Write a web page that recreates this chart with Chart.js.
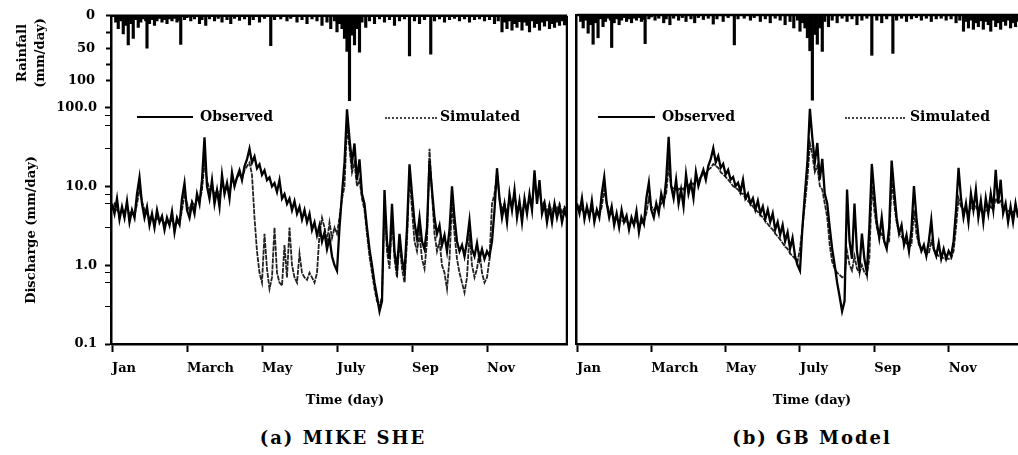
<!DOCTYPE html>
<html>
<head>
<meta charset="utf-8">
<script src="https://cdn.jsdelivr.net/npm/chart.js@4.4.1/dist/chart.umd.min.js"></script>
<style>
  body { margin: 0; background: #fff; }
  #wrap { position: relative; width: 1018px; height: 455px; overflow: hidden;
          font-family: "DejaVu Serif", serif; font-weight: bold; color: #000; }
  canvas { position: absolute; top: 0; }
  .t { position: absolute; white-space: nowrap; }
  .rot { transform: translate(-50%, -50%) rotate(-90deg); }
  .leg { position: absolute; height: 0; }
</style>
</head>
<body>
<div id="wrap">
  <canvas id="mikeChart" width="568" height="400" style="left:0"></canvas>
  <canvas id="gbChart" width="450" height="400" style="left:568px"></canvas>

  <!-- axis titles (left panel only) -->
  <div class="t rot" style="left:21px;top:53px;font-size:13px">Rainfall</div>
  <div class="t rot" style="left:39px;top:53px;font-size:13px">(mm/day)</div>
  <div class="t rot" style="left:30px;top:230px;font-size:13px">Discharge (mm/day)</div>

  <!-- legends -->
  <div class="leg" style="left:137px;top:116px;width:56px;border-top:2.5px solid #000"></div>
  <div class="t" style="left:200px;top:108px;font-size:14px">Observed</div>
  <div class="leg" style="left:385px;top:117px;width:52px;border-top:2px dotted #444"></div>
  <div class="t" style="left:440px;top:108px;font-size:14px">Simulated</div>

  <div class="leg" style="left:598px;top:116px;width:57px;border-top:2.5px solid #000"></div>
  <div class="t" style="left:662px;top:108px;font-size:14px">Observed</div>
  <div class="leg" style="left:845px;top:117px;width:60px;border-top:2px dotted #444"></div>
  <div class="t" style="left:910px;top:108px;font-size:14px">Simulated</div>

  <!-- x titles and captions -->
  <div class="t" style="left:345px;top:399px;font-size:13px;transform:translate(-50%,-50%)">Time (day)</div>
  <div class="t" style="left:812px;top:399px;font-size:13px;transform:translate(-50%,-50%)">Time (day)</div>
  <div class="t" style="left:343px;top:437px;font-size:18px;letter-spacing:2px;transform:translate(-50%,-50%)">(a) MIKE SHE</div>
  <div class="t" style="left:812px;top:437px;font-size:18px;letter-spacing:2px;transform:translate(-50%,-50%)">(b) GB Model</div>
</div>

<script>
// x axis month ticks (day of year)
const tickDays = [0, 60, 120, 180, 240, 300];
const monthLabels = ['Jan', 'March', 'May', 'July', 'Sep', 'Nov'];

// discharge sampled every 2 days, day 0 .. 364
const qDays = Array.from({ length: 183 }, (_, i) => i * 2);

const obsQ = [
  6, 4.5, 7, 3.8, 5.5, 4, 6.5, 3.5, 5, 4,
  8, 13, 6, 4, 5.5, 3.2, 4.5, 3, 5, 3.5,
  4.2, 2.8, 4, 3.2, 4.8, 2.6, 4, 3.3, 7, 11,
  5, 4, 6, 4.5, 8, 6, 12, 42, 10, 7,
  12, 6, 9, 5.5, 14, 8, 11, 7, 15, 10,
  13, 16, 12, 18, 22, 30, 20, 24, 17, 19,
  14, 16, 12, 13, 10, 11, 8.5, 12, 7, 8,
  6, 7, 5, 6.5, 4.5, 5.5, 3.8, 5, 3.5, 4.5,
  2.8, 3.5, 2.4, 3.2, 2, 2.6, 1.6, 2.2, 1.3, 1.0,
  0.85, 3, 8, 20, 95, 40, 20, 35, 12, 22,
  8, 6, 3, 1.6, 1.0, 0.6, 0.4, 0.26, 0.35, 9,
  2, 1.2, 6, 1.5, 0.9, 2.5, 1.2, 0.8, 3, 19,
  8, 3.5, 2.2, 4, 2, 1.6, 3, 21, 9, 4,
  2.5, 3.2, 1.8, 2.4, 1.5, 2.8, 10, 4, 2, 1.5,
  1.8, 1.3, 2, 3.7, 1.6, 1.3, 1.9, 1.2, 1.6, 1.2,
  1.5, 1.3, 2, 5, 17, 7, 4, 6, 3.5, 8,
  5, 9, 4, 6.5, 3.5, 7, 4.5, 8, 5, 16,
  6, 12, 4.5, 6, 3.5, 5.5, 3.5, 6, 4, 5.5,
  3.5, 5, 4
];

const mikeQ = [
  5, 6, 5, 4.5, 5, 4.8, 5.5, 4.5, 4.8, 4.2,
  6, 9, 6.5, 5, 4.5, 4, 4.2, 3.6, 4, 3.6,
  3.8, 3.4, 3.6, 3.3, 3.8, 3.2, 3.5, 3.3, 5, 8,
  6, 5, 6.5, 5.5, 7, 6.5, 9, 20, 12, 9,
  10, 8, 9, 7.5, 11, 9, 10, 8.5, 12, 11,
  13, 14, 13, 16, 18, 20, 14, 4, 1.5, 0.8,
  0.6, 2.5, 0.9, 0.5, 0.7, 3, 0.8, 0.6, 0.55, 1.8,
  0.7, 3, 1, 0.7, 0.6, 1.4, 0.8, 0.7, 0.65, 0.8,
  0.7, 0.6, 0.8, 2.5, 4, 3, 2, 3.5, 2.2, 3,
  2.5, 4, 7, 10, 60, 30, 15, 20, 10, 12,
  7, 5, 2.5, 1.3, 0.8, 0.5, 0.35, 0.3, 0.4, 6,
  1.5, 0.9, 4, 1.2, 0.7, 2, 0.9, 0.6, 2, 15,
  5, 2, 1.5, 2.5, 1.2, 0.9, 2, 30, 8, 2.5,
  1.5, 2, 1, 0.8, 0.5, 1.2, 6, 2.5, 1.2, 0.8,
  0.6, 0.45, 0.7, 2.5, 1, 0.7, 0.9, 1.5, 0.8, 0.6,
  0.7, 1.2, 6, 8, 15, 7, 5, 6, 4.5, 7,
  5.5, 8, 5, 6, 4.5, 6.5, 5, 7, 5.5, 12,
  7, 9, 5.5, 6.5, 4.5, 6, 4.5, 6, 5, 6,
  4.5, 5.5, 5
];

const gbQ = [
  5, 5.5, 5, 4.5, 4.8, 4.5, 5, 4.3, 4.5, 4.2,
  5.5, 9, 6, 4.8, 4.3, 4, 3.8, 3.6, 3.7, 3.5,
  3.6, 3.3, 3.5, 3.3, 3.6, 3.2, 3.4, 3.5, 4.5, 7,
  5.5, 5, 5.5, 5.2, 6, 6.5, 8, 18, 10, 9,
  10, 9, 9.5, 9, 11, 10, 11, 10.5, 12, 12,
  13, 14, 14.5, 16, 17, 19, 18, 17, 15, 14,
  13, 12, 11, 10, 9.5, 9, 8, 8, 7, 6.5,
  6, 5.5, 5, 4.7, 4.3, 4, 3.6, 3.3, 3, 2.8,
  2.5, 2.3, 2.1, 1.9, 1.7, 1.6, 1.4, 1.3, 1.2, 1.1,
  1.6, 3, 6, 12, 35, 25, 15, 18, 10, 9,
  6, 4, 1.8, 1.1, 0.9, 0.8, 0.75, 0.7, 0.7, 1.5,
  1, 0.85, 1.3, 0.9, 0.8, 1, 0.8, 0.75, 1.2, 10,
  5, 3, 2.3, 2.5, 2, 1.8, 2, 12, 6, 3.5,
  2.5, 2.3, 2, 1.9, 1.7, 1.8, 5, 2.5, 1.8, 1.6,
  1.5, 1.4, 1.4, 2, 1.6, 1.4, 1.3, 1.3, 1.2, 1.2,
  1.2, 1.2, 1.5, 3, 7, 5.5, 5, 5, 4.5, 5.5,
  5, 5.5, 4.8, 5, 4.5, 5, 4.8, 5.5, 5, 7,
  6, 6.5, 5, 5.2, 4.8, 5, 4.6, 5, 4.8, 5,
  4.5, 4.8, 4.6
];

// rainfall events: day of year and depth (mm/day)
const rainDays = [
  3, 5, 7, 9, 11, 13, 15, 17, 19, 21, 23, 25, 27, 28, 30, 32, 34, 36, 38, 40,
  42, 44, 46, 48, 50, 52, 54, 55, 58, 60, 63, 66, 70, 72, 75, 78, 82, 85, 88, 92,
  95, 98, 102, 106, 110, 113, 118, 122, 127, 130, 135, 140, 143, 148, 152, 156, 160, 164, 168, 172,
  175, 178, 180, 182, 184, 186, 188, 190, 192, 194, 196, 198, 200, 203, 206, 210, 214, 218, 222, 226,
  230, 234, 238, 242, 246, 250, 255, 258, 262, 266, 270, 274, 278, 282, 286, 290, 294, 298, 302, 306,
  309, 312, 314, 316, 318, 320, 322, 324, 326, 328, 330, 332, 334, 336, 338, 340, 342, 344, 346, 348,
  350, 352, 354, 356, 358, 360, 362
];
const rainMm = [
  10, 20, 8, 28, 15, 45, 12, 35, 6, 18, 10, 5, 8, 50, 12, 6, 15, 8, 4, 10,
  6, 12, 5, 8, 4, 10, 7, 44, 6, 3, 8, 5, 12, 6, 15, 5, 8, 4, 10, 6,
  12, 4, 7, 5, 14, 6, 10, 4, 46, 6, 5, 8, 4, 10, 6, 12, 5, 8, 15, 10,
  20, 8, 25, 12, 20, 35, 55, 131, 30, 45, 20, 56, 10, 18, 8, 12, 5, 10, 6, 15,
  8, 5, 62, 8, 12, 6, 59, 8, 5, 10, 6, 4, 8, 5, 10, 6, 5, 8, 6, 12,
  8, 25, 10, 20, 8, 22, 12, 18, 9, 22, 10, 15, 25, 8, 18, 12, 22, 10, 16, 8,
  20, 12, 18, 10, 15, 8, 14
];

const qTickMajor = [0.1, 1, 10, 100];
const rainTicks = [0, 25, 50, 75, 100];
const rainLabels = [0, 50, 100];

const tickFont = { family: 'DejaVu Serif', weight: 'bold', size: 13 };

// frame: top line and optional right line of the plot area
const framePlugin = {
  id: 'frame',
  afterDraw(chart, args, opts) {
    const { ctx, chartArea: a } = chart;
    ctx.save();
    ctx.strokeStyle = '#000';
    ctx.lineWidth = 2.5;
    ctx.beginPath();
    ctx.moveTo(a.left, a.top);
    ctx.lineTo(a.right, a.top);
    if (opts.right) {
      ctx.moveTo(a.right, a.top);
      ctx.lineTo(a.right, a.bottom);
    }
    ctx.stroke();
    ctx.restore();
  }
};

function makePanel(id, simQ, maxDay, showY) {
  const ctx = document.getElementById(id).getContext('2d');
  return new Chart(ctx, {
    type: 'line',
    data: {
      datasets: [
        {
          label: 'Observed',
          data: qDays.map((d, i) => ({ x: d, y: obsQ[i] })),
          yAxisID: 'q',
          borderColor: '#000',
          borderWidth: 2.3,
          pointRadius: 0,
          tension: 0
        },
        {
          label: 'Simulated',
          data: qDays.map((d, i) => ({ x: d, y: simQ[i] })),
          yAxisID: 'q',
          borderColor: '#222',
          borderWidth: 1.8,
          borderDash: [5, 1],
          pointRadius: 0,
          tension: 0
        },
        {
          type: 'bar',
          label: 'Rainfall',
          data: rainDays.map((d, i) => ({ x: d, y: rainMm[i] })),
          yAxisID: 'rain',
          backgroundColor: '#000',
          barThickness: 2.5
        }
      ]
    },
    options: {
      responsive: false,
      animation: false,
      devicePixelRatio: 1,
      layout: { padding: { top: 15, right: showY ? 1 : 0, left: 0, bottom: 0 } },
      plugins: {
        legend: { display: false },
        tooltip: { enabled: false },
        frame: { right: showY }
      },
      scales: {
        x: {
          type: 'linear',
          min: 0,
          max: maxDay,
          offset: false,
          afterBuildTicks: (s) => { s.ticks = tickDays.map(v => ({ value: v })); },
          afterFit: (s) => { s.height = 56; },
          ticks: {
            autoSkip: false,
            maxRotation: 0,
            align: 'start',
            padding: 9,
            color: '#000',
            font: tickFont,
            callback: (v) => monthLabels[tickDays.indexOf(v)]
          },
          grid: { offset: false, drawOnChartArea: false, tickLength: 8, tickWidth: 2, tickColor: '#000' },
          border: { color: '#000', width: 2.5 }
        },
        q: {
          type: 'logarithmic',
          position: 'left',
          weight: 1,
          min: 0.1,
          max: 1460,
          afterBuildTicks: (s) => {
            const t = [];
            qTickMajor.forEach((m, k) => {
              t.push({ value: m, major: true });
              if (k < qTickMajor.length - 1) {
                for (let j = 2; j <= 9; j++) t.push({ value: m * j });
              }
            });
            s.ticks = t;
          },
          afterFit: (s) => { s.width = showY ? 111 : 4; },
          ticks: {
            display: showY,
            padding: 8,
            color: '#000',
            font: tickFont,
            callback: (v) => qTickMajor.includes(v) ? v.toFixed(1) : ''
          },
          grid: {
            drawOnChartArea: false,
            drawTicks: showY,
            tickLength: 6,
            tickColor: '#000',
            tickWidth: (c) => (c.tick && c.tick.major ? 2 : 1)
          },
          border: { color: '#000', width: 2.5 }
        },
        rain: {
          type: 'linear',
          position: 'left',
          weight: 0,
          reverse: true,
          min: 0,
          max: 506,
          afterBuildTicks: (s) => { s.ticks = rainTicks.map(v => ({ value: v })); },
          afterFit: (s) => { s.width = 1; },
          ticks: {
            display: showY,
            mirror: true,          // lets the labels sit outside the 1px-wide axis box
            crossAlign: 'far',
            padding: -44,
            color: '#000',
            font: tickFont,
            callback: (v) => rainLabels.includes(v) ? String(v) : ''
          },
          grid: { drawOnChartArea: false, drawTicks: showY, tickLength: 6, tickColor: '#000', tickWidth: 2 },
          border: { display: false }
        }
      }
    },
    plugins: [framePlugin]
  });
}

makePanel('mikeChart', mikeQ, 364, true);
makePanel('gbChart', gbQ, 356, false);
</script>
</body>
</html>
